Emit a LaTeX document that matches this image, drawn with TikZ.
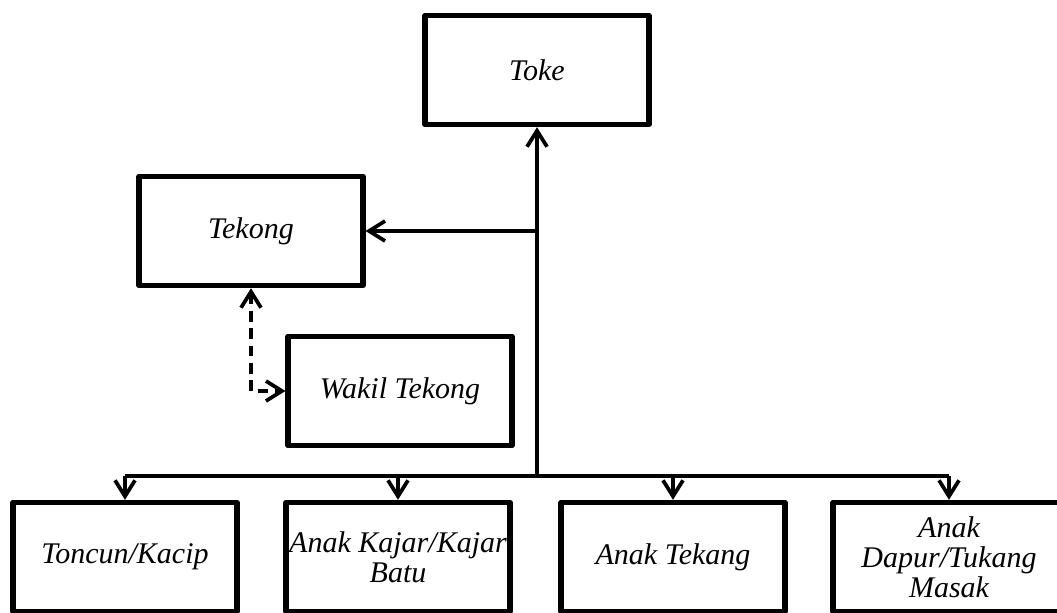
\documentclass[tikz,border=0pt]{standalone}
\usepackage{fontspec}
\setmainfont{Liberation Serif}
\usetikzlibrary{arrows.meta}
\begin{document}
\begin{tikzpicture}[x=0.75pt,y=-0.75pt,
  >={Straight Barb[length=12pt,width=15pt]},
  box/.style={draw, line width=3.8pt, line join=round, minimum width=168pt, minimum height=82pt, inner sep=2pt, align=center, font=\fontsize{22.5}{22.5}\selectfont\itshape},
  link/.style={draw, line width=2.8pt}]
\path[use as bounding box, clip] (0,0) rectangle (1057,612);
\node[box] (toke) at (537,70) {Toke};
\node[box] (tekong) at (251,231) {Tekong};
\node[box] (wakil) at (400,391) {Wakil Tekong};
\node[box] (toncun) at (125,557) {Toncun/Kacip};
\node[box] (kajar) at (398,557) {Anak Kajar/Kajar\\Batu};
\node[box] (tekang) at (673,557) {Anak Tekang};
\node[box, minimum width=174pt] (dapur) at (949,557) {Anak\\Dapur/Tukang\\Masak};
\coordinate (hub) at (537,476);
\coordinate (fork) at (537,231);
\path[link,->] (hub) -- (toke);
\path[link,->] (fork) -- (tekong);
\path[link] (toncun |- hub) -- (dapur |- hub);
\foreach \n in {toncun,kajar,tekang,dapur}
  \path[link,->] (\n |- hub) -- (\n);
\path[link,<->,dash pattern=on 8pt off 5pt] (tekong) |- (wakil);
\end{tikzpicture}
\end{document}
